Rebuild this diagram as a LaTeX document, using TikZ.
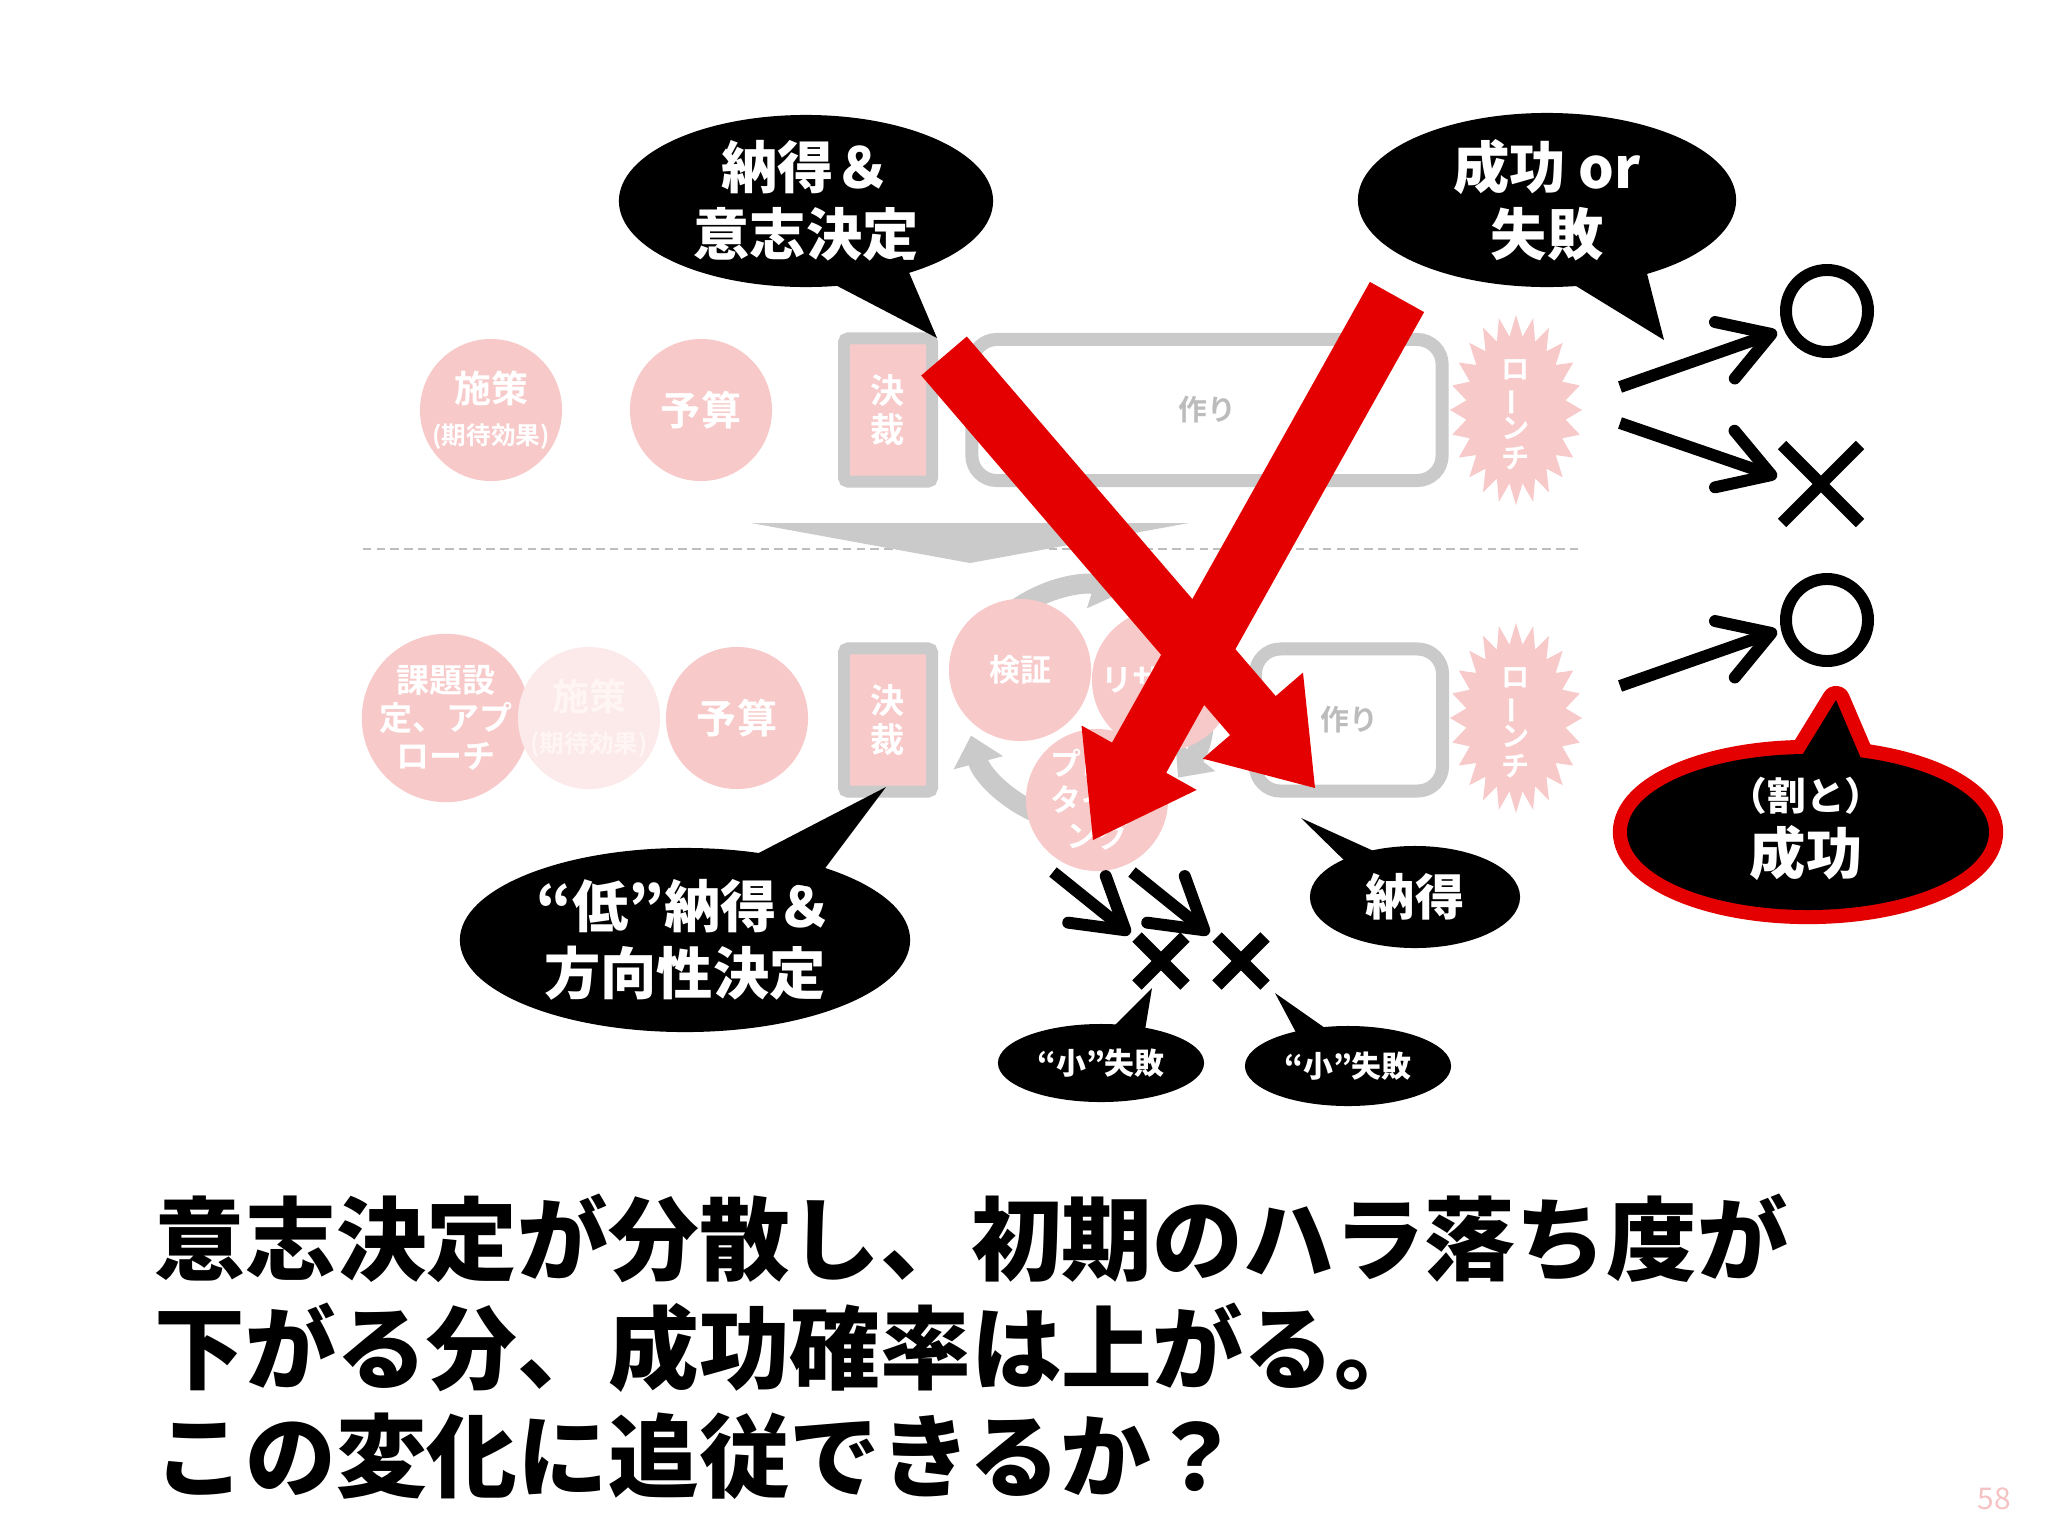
\documentclass[tikz,border=0pt]{standalone}
\usepackage{fontspec}
\setmainfont{Noto Sans CJK JP}[BoldFont={Noto Sans CJK JP Bold}]
\newfontfamily\heavy{Noto Sans CJK JP Black}
\usetikzlibrary{shapes.geometric,arrows.meta,calc}
\definecolor{pinkc}{RGB}{248,201,201}
\definecolor{pinkl}{RGB}{252,234,234}
\definecolor{grayc}{RGB}{202,202,202}
\definecolor{dashc}{RGB}{190,190,190}
\definecolor{redc}{RGB}{228,0,0}
\definecolor{txtgray}{RGB}{188,188,188}
\definecolor{pgnum}{RGB}{245,195,195}
\definecolor{fadetxt}{RGB}{255,245,245}
\begin{document}
\begin{tikzpicture}[x=0.01cm,y=-0.01cm,
  pinkcirc/.style={circle,fill=pinkc,minimum size=1.42cm,inner sep=0pt,text=white,align=center,font=\bfseries\fontsize{11.4}{13}\selectfont},
  kessai/.style={rectangle,fill=pinkc,draw=grayc,line width=3.4pt,rounded corners=0.04cm,minimum width=0.88cm,minimum height=1.43cm,inner sep=0pt,text=white,align=center,font=\bfseries\fontsize{9.7}{11}\selectfont},
  tsukuri/.style={rectangle,draw=grayc,line width=3.7pt,rounded corners=0.25cm,inner sep=0pt,text=txtgray,font=\bfseries\fontsize{8.2}{9}\selectfont},
  launchtxt/.style={text=white,align=center,inner sep=0pt,font=\bfseries\fontsize{8}{8.4}\selectfont},
  balloon/.style={ellipse,fill=black,inner sep=0pt,text=white,align=center,font=\heavy\fontsize{16}{19.2}\selectfont},
  grayarc/.style={draw=grayc,line width=5.7pt,-{Triangle[length=8pt,width=14pt]}},
  blackarr/.style={draw=black,line width=3.4pt,-{Straight Barb[round,length=14pt,width=17pt]}},
  xmark/.style={draw=black,line width=3.4pt},
  xsmall/.style={draw=black,line width=3.8pt},
]
\useasboundingbox[fill=white] (0,0) rectangle (2048,1536);

% ---------- upper row ----------
\node[pinkcirc] (u1) at (491,410) {{\fontsize{10.5}{12}\selectfont 施策}\\[-1pt]{\fontsize{7}{8}\selectfont (期待効果)}};
\node[pinkcirc] (u2) at (701,410) {予算};
\node[kessai] (u3) at (888,410) {決\\裁};
\node[tsukuri,minimum width=4.70cm,minimum height=1.41cm] (u4) at (1207,410) {作り};
\fill[pinkc] plot[variable=\k,samples at={0,...,47}] ({1516+(58+8*cos(\k*180))*cos(\k*7.5)},{410+(84.5+10.5*cos(\k*180))*sin(\k*7.5)}) -- cycle;
\node[launchtxt] (u5) at (1516,415) {ロ\\\rotatebox[origin=c]{90}{ー}\\ン\\チ};

% ---------- separator ----------
\coordinate (dl) at (363,549);
\coordinate (dr) at (1580,549);
\draw[dashc,line width=0.6pt,dash pattern=on 2.4pt off 1.5pt] (dl) -- (dr);
\fill[grayc] (751,523) -- (1189,523) -- (970,563) -- cycle;

% ---------- lower row ----------
\node[pinkcirc,font=\bfseries\fontsize{9.4}{10.8}\selectfont] (l1) at (446,718) {課題設\\定、アプ\\ローチ};
\node[pinkcirc,fill=pinkl,text=fadetxt] (l2) at (589,718) {{\fontsize{10.5}{12}\selectfont 施策}\\[-1pt]{\fontsize{7}{8}\selectfont (期待効果)}};
\node[pinkcirc] (l3) at (737,718) {予算};
\node[kessai] (l4) at (888,720) {決\\裁};

\coordinate (cyc) at (1085,705);
\draw[grayarc] (cyc) ++(232:118) arc[start angle=232,end angle=288,radius=118];
\draw[grayarc] (cyc) ++(-25:118) arc[start angle=-25,end angle=38,radius=118];
\draw[grayarc] (cyc) ++(105:118) arc[start angle=105,end angle=165,radius=118];

\node[pinkcirc,font=\bfseries\fontsize{8.8}{10}\selectfont] (c1) at (1020,670) {検証};
\node[pinkcirc,font=\bfseries\fontsize{8.8}{10}\selectfont] (c2) at (1163,680) {リサーチ};
\node[pinkcirc,font=\bfseries\fontsize{8.8}{10.2}\selectfont] (c3) at (1097,800) {プロト\\タイピ\\ング};

\node[tsukuri,minimum width=1.87cm,minimum height=1.42cm] (l5) at (1349,720) {作り};
\fill[pinkc] plot[variable=\k,samples at={0,...,47}] ({1516+(58+8*cos(\k*180))*cos(\k*7.5)},{718+(84.5+10.5*cos(\k*180))*sin(\k*7.5)}) -- cycle;
\node[launchtxt] (l6) at (1516,723) {ロ\\\rotatebox[origin=c]{90}{ー}\\ン\\チ};

% ---------- red cross arrows ----------
\fill[redc] (966.8,336.5) -- (1275.7,696.1) -- (1303.0,672.6) -- (1315,788) -- (1202.8,758.6) -- (1230.1,735.1) -- (921.2,375.5) -- cycle;
\fill[redc] (1424.1,312.1) -- (1166.2,772.8) -- (1196.7,789.9) -- (1093,840) -- (1081.5,725.5) -- (1112.0,742.6) -- (1369.9,281.9) -- cycle;

% ---------- balloons ----------
\node[balloon,minimum width=3.74cm,minimum height=1.72cm] (b1) at (806,201) {納得＆\\意志決定};
\coordinate (b1t) at (937,338);
\fill (822,278) -- (b1t) -- (902,256) -- cycle;

\node[balloon,minimum width=3.78cm,minimum height=1.74cm] (b2) at (1547,200) {成功 or\\失敗};
\coordinate (b2t) at (1664,340);
\fill (1563,278) -- (b2t) -- (1643,258) -- cycle;

\node[balloon,minimum width=4.50cm,minimum height=1.84cm] (b3) at (685,940) {“低”納得＆\\方向性決定};
\coordinate (b3t) at (886,787);
\fill (724,871) -- (b3t) -- (811,887) -- cycle;

\node[balloon,minimum width=2.10cm,minimum height=1.02cm,font=\heavy\fontsize{14}{16}\selectfont] (b4) at (1415,897) {納得};
\coordinate (b4t) at (1301,818);
\fill (1352,868) -- (b4t) -- (1389,858) -- cycle;

\node[balloon,minimum width=2.06cm,minimum height=0.78cm,font=\heavy\fontsize{8.5}{10}\selectfont] (b5) at (1101,1063) {“小”失敗};
\coordinate (b5t) at (1152,988);
\fill (1105,1035) -- (b5t) -- (1145,1030) -- cycle;

\node[balloon,minimum width=2.06cm,minimum height=0.80cm,font=\heavy\fontsize{8.5}{10}\selectfont] (b6) at (1348,1066) {“小”失敗};
\coordinate (b6t) at (1275,993);
\fill (1300,1040) -- (b6t) -- (1335,1035) -- cycle;

% red-outlined balloon
\coordinate (rbt) at (1836,700);
\node[ellipse,draw=redc,line width=8pt,minimum width=3.62cm,minimum height=1.56cm,inner sep=0pt] (rbo) at (1808,832) {};
\draw[redc,line width=8pt,line join=round] (1790,775) -- (rbt) -- (1868,775) -- cycle;
\fill[black] (1790,775) -- (rbt) -- (1868,775) -- cycle;
\fill[black] (rbo.center) ellipse[x radius=181,y radius=78];
\node[text=white,font=\heavy\fontsize{11}{13}\selectfont] (rb1) at (1806,796) {（割と）};
\node[text=white,font=\heavy\fontsize{16}{19}\selectfont] (rb2) at (1806,853) {成功};

% ---------- outcomes ----------
\node[circle,draw=black,line width=3.4pt,minimum size=0.82cm,inner sep=0pt] (o1) at (1827,311) {};
\node[circle,draw=black,line width=3.4pt,minimum size=0.82cm,inner sep=0pt] (o2) at (1827,620) {};
\coordinate (xc) at (1821,484);
\draw[xmark] (1782,445) -- (1860,523) (1782,523) -- (1860,445);

\coordinate (a1s) at (1620,387); \coordinate (a1e) at (1777,332);
\coordinate (a2s) at (1620,423); \coordinate (a2e) at (1777,477);
\coordinate (a3s) at (1620,686); \coordinate (a3e) at (1777,631);
\draw[blackarr] (a1s) -- (a1e);
\draw[blackarr] (a2s) -- (a2e);
\draw[blackarr] (a3s) -- (a3e);

\coordinate (s1s) at (1053,872); \coordinate (s1e) at (1130,934);
\coordinate (s2s) at (1132,872); \coordinate (s2e) at (1209,934);
\draw[blackarr] (s1s) -- (s1e);
\draw[blackarr] (s2s) -- (s2e);
\draw[xsmall] (1137,937) -- (1185,985) (1137,985) -- (1185,937);
\draw[xsmall] (1217,937) -- (1265,985) (1217,985) -- (1265,937);

% ---------- bottom text ----------
\node[anchor=west,inner sep=0pt,font=\heavy\fontsize{25.8}{30}\selectfont] (t1) at (154,1238) {意志決定が分散し、初期のハラ落ち度が};
\node[anchor=west,inner sep=0pt,font=\heavy\fontsize{25.8}{30}\selectfont] (t2) at (154,1348) {下がる分、成功確率は上がる。};
\node[anchor=west,inner sep=0pt,font=\heavy\fontsize{25.8}{30}\selectfont] (t3) at (154,1456) {この変化に追従できるか？};
\node[text=pgnum,font=\fontsize{8.5}{10}\selectfont] (pg) at (1994,1499) {58};
\end{tikzpicture}
\end{document}
